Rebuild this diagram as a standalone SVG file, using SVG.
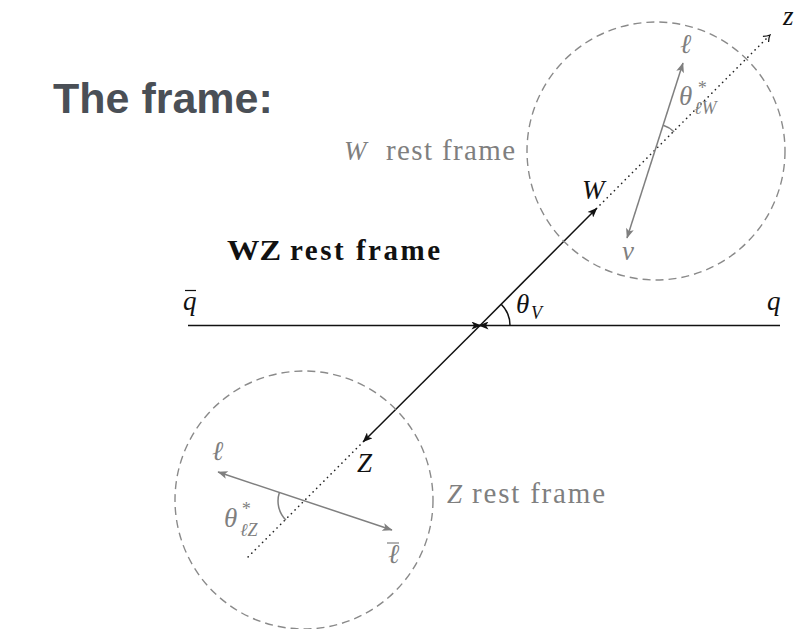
<svg xmlns="http://www.w3.org/2000/svg" width="797" height="629" viewBox="0 0 797 629">
<style>
.m{font-family:"Liberation Serif","Times New Roman",serif;font-style:italic;font-size:27px}
.r{font-family:"Liberation Serif","Times New Roman",serif;font-size:29px}
.s{font-family:"Liberation Serif","Times New Roman",serif;font-style:italic;font-size:18px}
.k{fill:#111}
.g{fill:#7f7f7f}
.circ{fill:none;stroke:#8a8a8a;stroke-width:1.4;stroke-dasharray:8 5}
.dot{fill:none;stroke:#222;stroke-width:1.6;stroke-linecap:round;stroke-dasharray:0.1 5}
.bl{fill:none;stroke:#111;stroke-width:1.5}
.gl{fill:none;stroke:#7f7f7f;stroke-width:1.5}
</style>
<defs>
<marker id="ah" viewBox="0 0 10 8" refX="9.5" refY="4" markerWidth="11" markerHeight="8" markerUnits="userSpaceOnUse" orient="auto-start-reverse"><path d="M0,0 L10,4 L0,8 L2.5,4 z" fill="#111"/></marker>
<marker id="ahg" viewBox="0 0 10 8" refX="9.5" refY="4" markerWidth="11" markerHeight="8" markerUnits="userSpaceOnUse" orient="auto-start-reverse"><path d="M0,0 L10,4 L0,8 L2.5,4 z" fill="#7f7f7f"/></marker>
<marker id="to" viewBox="0 0 8 10" refX="7" refY="5" markerWidth="8" markerHeight="10" markerUnits="userSpaceOnUse" orient="auto"><path d="M1,1 Q4,4 7,5 Q4,6 1,9" fill="none" stroke="#111" stroke-width="1.2"/></marker>
</defs>

<g id="title"><text x="53" y="113" font-family="Liberation Sans, Arial, sans-serif" font-weight="bold" font-size="43" fill="#4a4f56">The frame:</text></g>

<g id="connectors">
  <path class="bl" d="M188,325.5 L481,325.5" marker-end="url(#ah)"/>
  <path class="bl" d="M780,325.5 L479,325.5" marker-end="url(#ah)"/>
  <path class="bl" d="M480,325.5 L597,208" marker-end="url(#ah)"/>
  <path class="bl" d="M480,325.5 L363,442" marker-end="url(#ah)"/>
  <path class="bl" d="M510,325.5 A30,30 0 0 0 501.2,304.3"/>
  <path class="dot" d="M600,205 L768,37"/>
  <path d="M766,39 L770,35" fill="none" stroke="#111" stroke-width="0.1" marker-end="url(#to)"/>
  <path class="dot" d="M360,445 L248,557"/>
</g>

<g id="wz-frame">
  <text class="r" x="227" y="260" font-weight="bold" fill="#111" font-size="30" textLength="54" lengthAdjust="spacingAndGlyphs">WZ</text>
  <text class="r" x="290" y="260" font-weight="bold" fill="#111" font-size="30" textLength="150">rest frame</text>
</g>

<g id="qbar">
  <text class="m k" x="183" y="310">q</text>
  <path d="M185,290.5 L196,290.5" stroke="#111" stroke-width="1.2"/>
</g>
<g id="q"><text class="m k" x="767" y="310">q</text></g>
<g id="thetaV"><text class="m k" x="516" y="313">θ</text><text class="s k" x="531" y="319">V</text></g>
<g id="zaxis"><text class="m k" x="783" y="25" font-size="22">z</text></g>

<g id="w-frame">
  <circle class="circ" cx="656" cy="151" r="129"/>
  <text class="m g" x="344" y="160" font-size="28">W</text>
  <text class="r g" x="386" y="160" textLength="129">rest frame</text>
  <text class="m k" x="582" y="199">W</text>
  <path class="gl" d="M627,238 L683,63" marker-start="url(#ahg)" marker-end="url(#ahg)"/>
  <path class="gl" d="M674.1,131.9 A27,27 0 0 0 663.2,125.3"/>
  <text class="m g" x="680" y="53">ℓ</text>
  <text class="m g" x="622" y="260">ν</text>
  <text class="m g" x="679" y="105">θ</text>
  <text class="s g" x="697" y="94" font-style="normal" font-size="17">*</text>
  <text class="s g" x="694" y="114">ℓW</text>
</g>

<g id="z-frame">
  <circle class="circ" cx="304" cy="500" r="129"/>
  <text class="m g" x="447" y="503" font-size="28">Z</text>
  <text class="r g" x="472" y="503" textLength="133">rest frame</text>
  <text class="m k" x="357" y="472">Z</text>
  <path class="gl" d="M218,472 L392,530" marker-start="url(#ahg)" marker-end="url(#ahg)"/>
  <path class="gl" d="M279.4,492.5 A27,27 0 0 0 285.9,520.1"/>
  <text class="m g" x="212" y="460">ℓ</text>
  <text class="m g" x="388" y="563">ℓ</text>
  <path d="M387,543 L399,543" stroke="#7f7f7f" stroke-width="1.2"/>
  <text class="m g" x="224" y="527">θ</text>
  <text class="s g" x="241" y="515" font-style="normal" font-size="17">*</text>
  <text class="s g" x="240" y="536">ℓZ</text>
</g>
</svg>
